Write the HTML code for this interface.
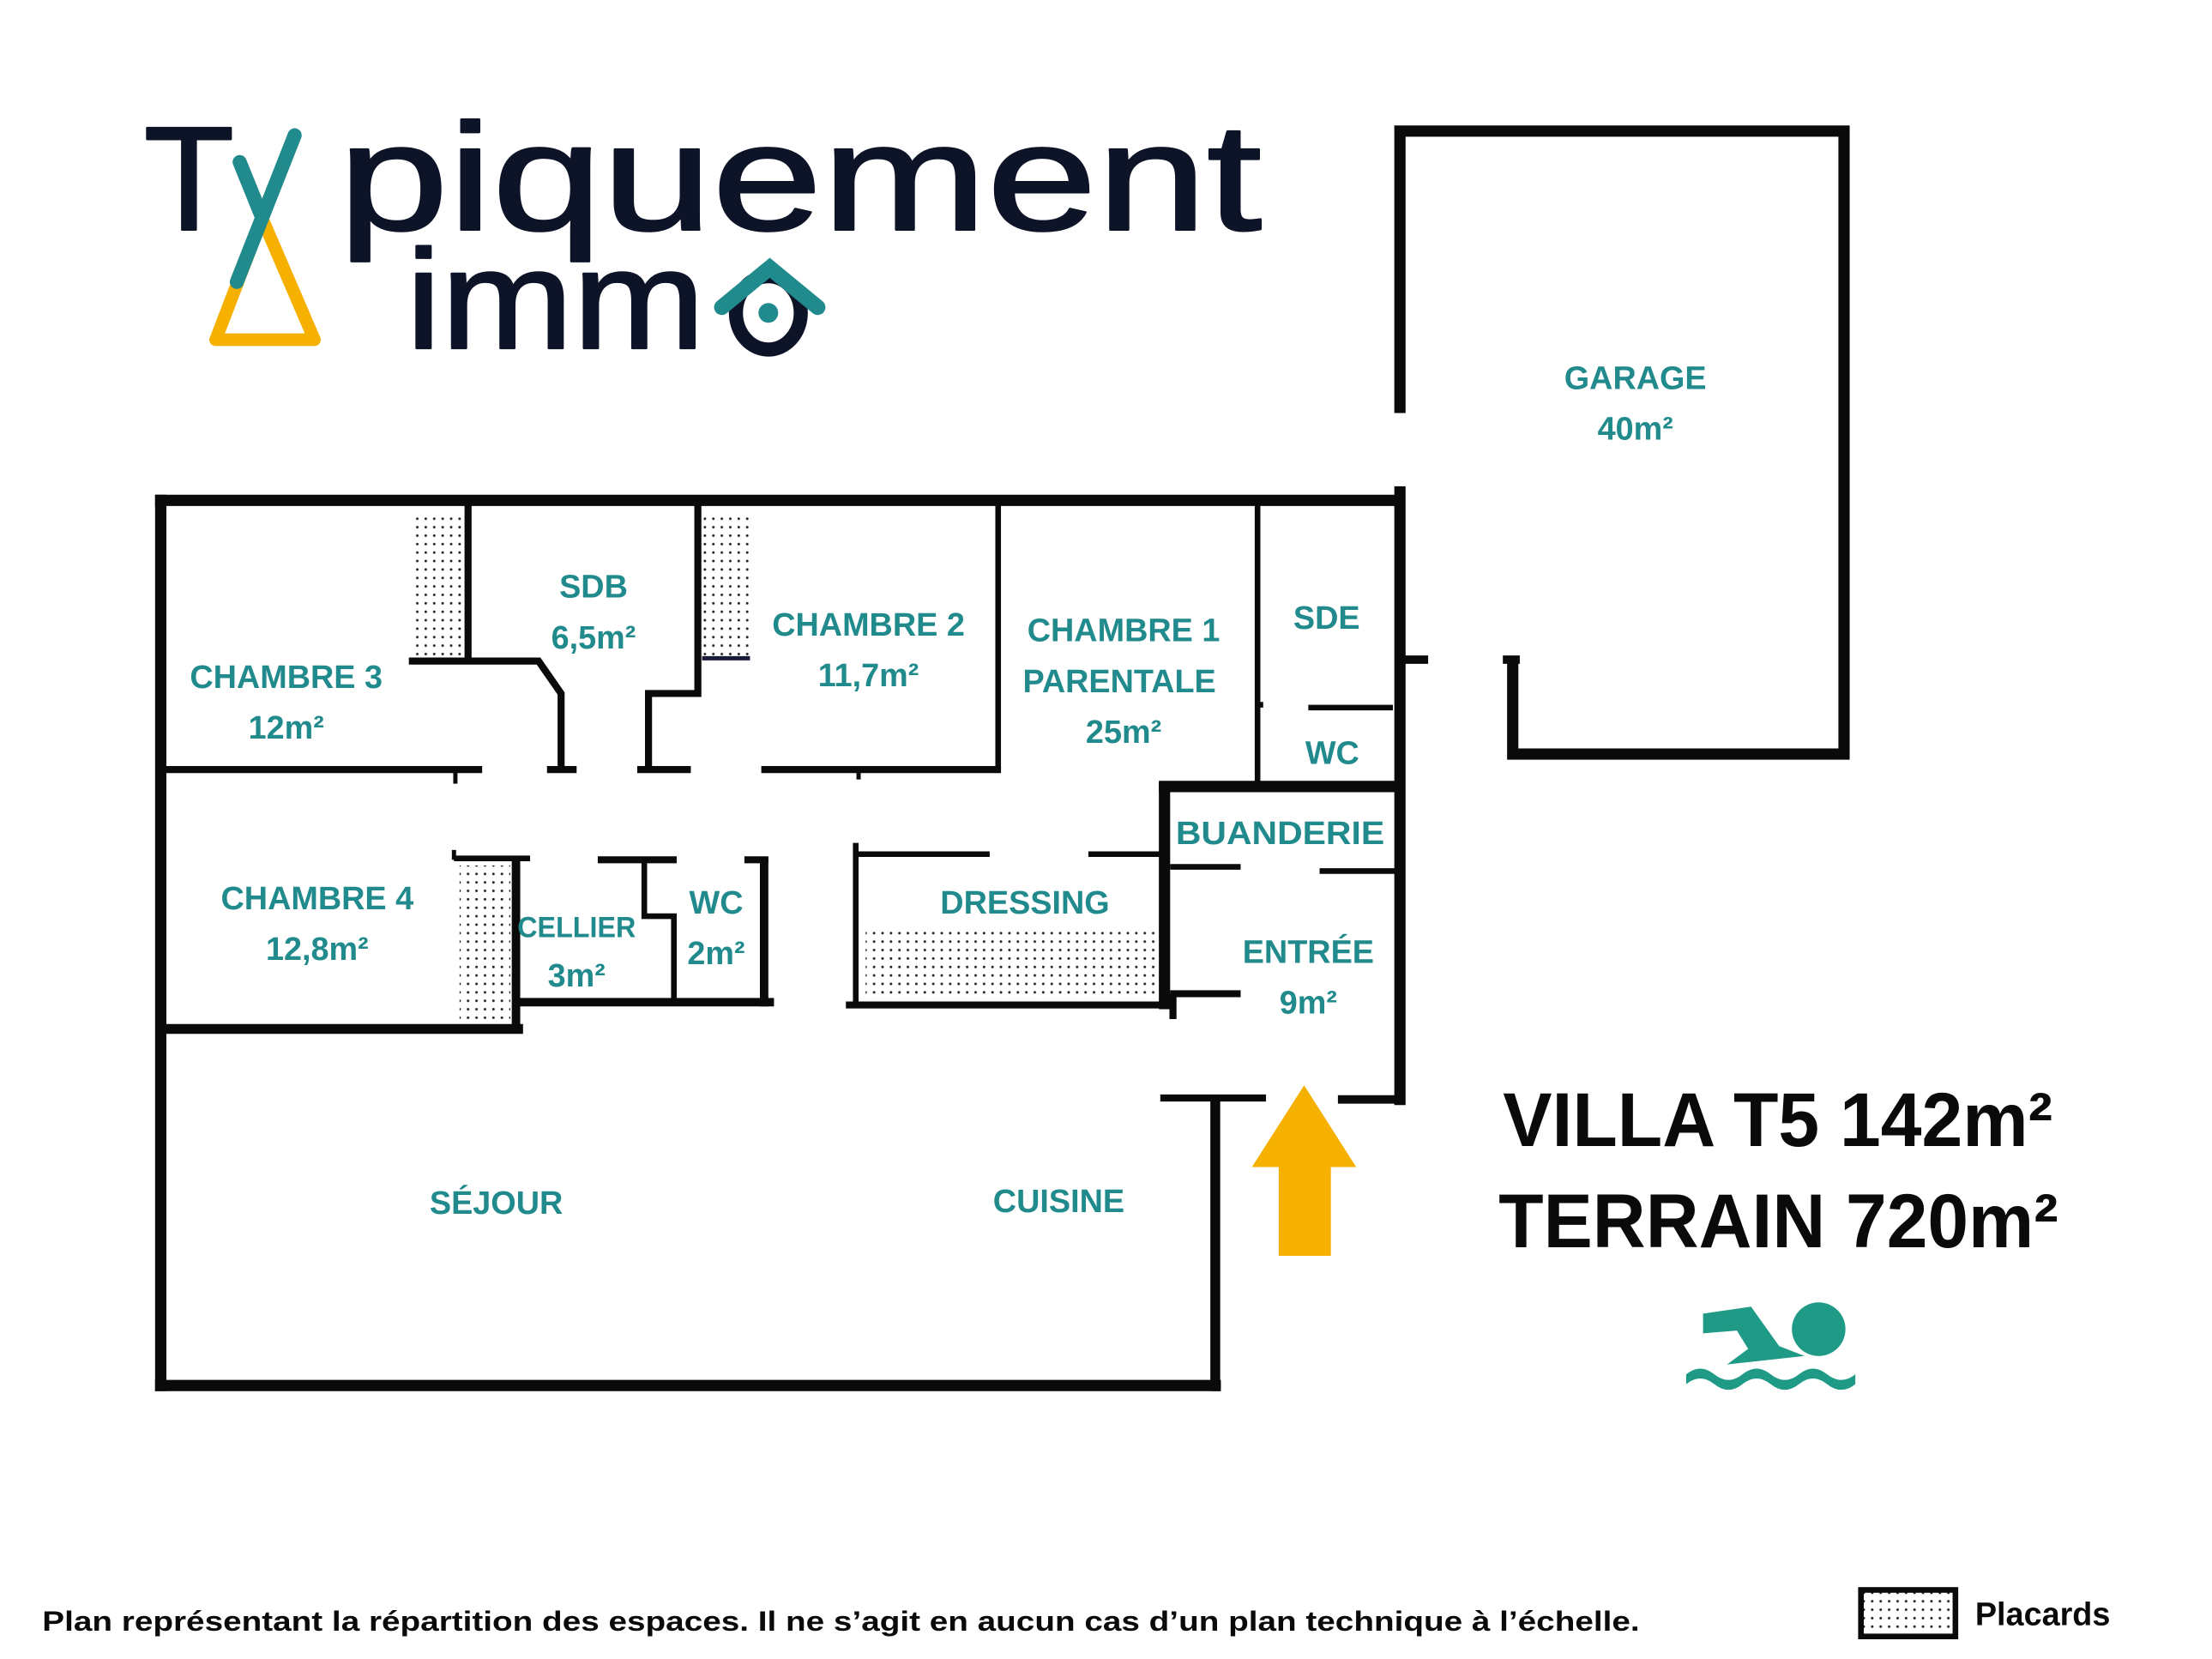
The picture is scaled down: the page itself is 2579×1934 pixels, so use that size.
<!DOCTYPE html>
<html><head><meta charset="utf-8"><style>
html,body{margin:0;padding:0;background:#fff;}
svg{display:block;}
.l{font-family:"Liberation Sans",sans-serif;font-weight:bold;fill:#218a8c;font-size:23px;text-anchor:middle;}
</style></head><body>
<svg width="2579" height="1934" viewBox="0 0 1569 1177" preserveAspectRatio="none" xmlns="http://www.w3.org/2000/svg">
<defs>
<pattern id="dots" width="6" height="6" patternUnits="userSpaceOnUse">
<rect width="6" height="6" fill="#fff"/><circle cx="2" cy="2" r="0.9" fill="#222"/>
</pattern>
</defs>
<rect width="1569" height="1177" fill="#fff"/>

<!-- Logo -->
<g fill="#0e1428" stroke="#0e1428" stroke-width="1.5" stroke-linejoin="round" font-family="Liberation Sans,sans-serif">
<text x="102" y="163" font-size="105">T</text>
<text x="240" y="163" font-size="108" textLength="655" lengthAdjust="spacingAndGlyphs">piquement</text>
<text x="288" y="247" font-size="100" textLength="212" lengthAdjust="spacingAndGlyphs">imm</text>
</g>
<polygon points="186,155 153,241 223,241" fill="none" stroke="#f5b000" stroke-width="9" stroke-linejoin="round"/>
<line x1="209" y1="96" x2="168" y2="200" stroke="#218a8c" stroke-width="10" stroke-linecap="round"/>
<line x1="170" y1="115" x2="185" y2="152" stroke="#218a8c" stroke-width="10" stroke-linecap="round"/>
<ellipse cx="545" cy="222" rx="23" ry="26" fill="none" stroke="#0e1428" stroke-width="10"/>
<circle cx="545" cy="222" r="7" fill="#218a8c"/>
<polyline points="512,218 546,190 580,218" fill="none" stroke="#218a8c" stroke-width="11" stroke-linecap="round"/>

<!-- Walls -->
<g stroke="#0a0a0a" fill="none" stroke-linecap="butt">
<polyline points="993,293 993,93 1308,93 1308,535 1073,535 1073,466" stroke-width="8"/>
<line x1="1066" y1="468" x2="1078" y2="468" stroke-width="6"/>
<line x1="110" y1="355" x2="996" y2="355" stroke-width="8"/>
<line x1="114" y1="351" x2="114" y2="987" stroke-width="8"/>
<line x1="110" y1="983" x2="866" y2="983" stroke-width="8"/>
<line x1="862" y1="779" x2="862" y2="987" stroke-width="7"/>
<line x1="993" y1="345" x2="993" y2="784" stroke-width="8"/>
<line x1="993" y1="468" x2="1013" y2="468" stroke-width="6"/>
<line x1="823" y1="779" x2="898" y2="779" stroke-width="5"/>
<line x1="949" y1="780" x2="995" y2="780" stroke-width="6"/>
<line x1="332" y1="355" x2="332" y2="470" stroke-width="5"/>
<polyline points="290,469 382,469 398,492 398,547" stroke-width="5"/>
<line x1="117" y1="546" x2="342" y2="546" stroke-width="5"/>
<line x1="323" y1="546" x2="323" y2="556" stroke-width="3"/>
<line x1="388" y1="546" x2="409" y2="546" stroke-width="5"/>
<polyline points="495,355 495,492 460,492 460,547" stroke-width="5"/>
<line x1="452" y1="546" x2="490" y2="546" stroke-width="5"/>
<line x1="498" y1="467" x2="532" y2="467" stroke="#1a1a3a" stroke-width="3"/>
<line x1="540" y1="546" x2="710" y2="546" stroke-width="5"/>
<line x1="609" y1="546" x2="609" y2="553" stroke-width="3"/>
<line x1="708" y1="355" x2="708" y2="548" stroke-width="4"/>
<line x1="892" y1="355" x2="892" y2="558" stroke-width="4"/>
<line x1="892" y1="500" x2="896" y2="500" stroke-width="4"/>
<line x1="928" y1="502" x2="988" y2="502" stroke-width="4"/>
<line x1="822" y1="558" x2="993" y2="558" stroke-width="8"/>
<line x1="826" y1="555" x2="826" y2="716" stroke-width="8"/>
<line x1="830" y1="615" x2="880" y2="615" stroke-width="4"/>
<line x1="936" y1="618" x2="990" y2="618" stroke-width="4"/>
<line x1="830" y1="705" x2="880" y2="705" stroke-width="5"/>
<line x1="832" y1="705" x2="832" y2="723" stroke-width="5"/>
<line x1="607" y1="598" x2="607" y2="715" stroke-width="4"/>
<line x1="607" y1="606" x2="702" y2="606" stroke-width="4"/>
<line x1="772" y1="606" x2="826" y2="606" stroke-width="4"/>
<line x1="600" y1="713" x2="830" y2="713" stroke-width="5"/>
<line x1="322" y1="603" x2="322" y2="610" stroke-width="3"/>
<line x1="322" y1="609" x2="376" y2="609" stroke-width="4"/>
<line x1="424" y1="610" x2="480" y2="610" stroke-width="5"/>
<polyline points="457,610 457,650 478,650 478,710" stroke-width="4"/>
<line x1="528" y1="610" x2="545" y2="610" stroke-width="5"/>
<line x1="542" y1="608" x2="542" y2="714" stroke-width="6"/>
<line x1="366" y1="611" x2="366" y2="733" stroke-width="6"/>
<line x1="366" y1="711" x2="549" y2="711" stroke-width="6"/>
<line x1="117" y1="730" x2="371" y2="730" stroke-width="7"/>
</g>
<rect x="292" y="363" width="36" height="103" fill="url(#dots)"/>
<rect x="499" y="363" width="33" height="102" fill="url(#dots)"/>
<rect x="326" y="614" width="36" height="110" fill="url(#dots)"/>
<rect x="614" y="658" width="206" height="51" fill="url(#dots)"/>

<!-- Labels -->
<text class="l" x="1160" y="276">GARAGE</text>
<text class="l" x="1160" y="312">40m²</text>
<text class="l" x="421" y="424">SDB</text>
<text class="l" x="421" y="460">6,5m²</text>
<text class="l" x="616" y="451">CHAMBRE 2</text>
<text class="l" x="616" y="487">11,7m²</text>
<text class="l" x="797" y="455">CHAMBRE 1</text>
<text class="l" x="794" y="491">PARENTALE</text>
<text class="l" x="797" y="527">25m²</text>
<text class="l" x="941" y="446">SDE</text>
<text class="l" x="945" y="542">WC</text>
<text class="l" x="203" y="488">CHAMBRE 3</text>
<text class="l" x="203" y="524">12m²</text>
<text class="l" x="908" y="599" textLength="148" lengthAdjust="spacingAndGlyphs">BUANDERIE</text>
<text class="l" x="225" y="645">CHAMBRE 4</text>
<text class="l" x="225" y="681">12,8m²</text>
<text class="l" x="409" y="665" style="font-size:21px" textLength="84" lengthAdjust="spacingAndGlyphs">CELLIER</text>
<text class="l" x="409" y="700">3m²</text>
<text class="l" x="508" y="648">WC</text>
<text class="l" x="508" y="684">2m²</text>
<text class="l" x="727" y="648">DRESSING</text>
<text class="l" x="928" y="683">ENTRÉE</text>
<text class="l" x="928" y="719">9m²</text>
<text class="l" x="352" y="861">SÉJOUR</text>
<text class="l" x="751" y="860">CUISINE</text>

<polygon points="925,770 962,828 944,828 944,891 907,891 907,828 888,828" fill="#f5b000"/>

<g font-family="Liberation Sans,sans-serif" font-weight="bold" fill="#0a0a0a" font-size="54">
<text x="1066" y="813" textLength="390" lengthAdjust="spacingAndGlyphs">VILLA T5 142m²</text>
<text x="1063" y="885" textLength="397" lengthAdjust="spacingAndGlyphs">TERRAIN 720m²</text>
</g>
<g fill="#1f9a86">
<circle cx="1290" cy="943" r="19"/>
<path d="M1208,932 L1242,927 L1262,955 L1280,962 L1225,968 L1240,957 L1232,944 L1208,946 Z"/>
<path d="M1196,975 q10,-8 20,0 q10,8 20,0 q10,-8 20,0 q10,8 20,0 q10,-8 20,0 q10,8 20,0 l0,7 q-10,8 -20,0 q-10,-8 -20,0 q-10,8 -20,0 q-10,-8 -20,0 q-10,8 -20,0 q-10,-8 -20,0 z"/>
</g>

<text x="30" y="1157" font-family="Liberation Sans,sans-serif" font-weight="bold" font-size="20" fill="#0a0a0a" textLength="1133" lengthAdjust="spacingAndGlyphs">Plan représentant la répartition des espaces. Il ne s’agit en aucun cas d’un plan technique à l’échelle.</text>
<rect x="1320" y="1128" width="67" height="33" fill="url(#dots)" stroke="#0a0a0a" stroke-width="4"/>
<text x="1401" y="1153" font-family="Liberation Sans,sans-serif" font-weight="bold" font-size="23" fill="#0a0a0a">Placards</text>
</svg>
</body></html>
